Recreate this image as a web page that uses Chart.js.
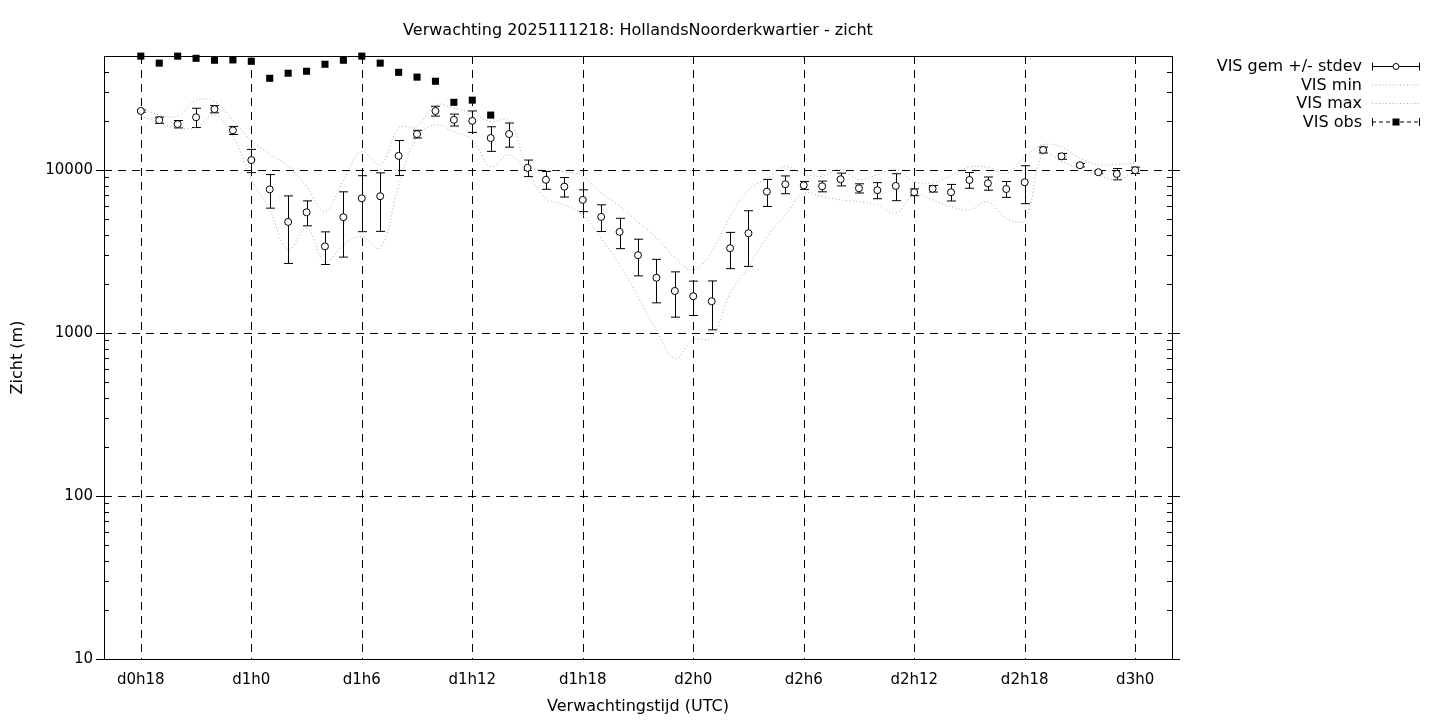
<!DOCTYPE html>
<html>
<head>
<meta charset="utf-8">
<script src="https://cdn.jsdelivr.net/npm/chart.js@4.4.0/dist/chart.umd.min.js"></script>
<style>
html, body { margin: 0; padding: 0; background: #fff; }
#wrap { width: 1440px; height: 720px; }
</style>
</head>
<body>
<div id="wrap"><canvas id="chart" width="1440" height="720"></canvas></div>
<script>
// verwachtingsuren (uren sinds d0h0)
const hours = [18,19,20,21,22,23,24,25,26,27,28,29,30,31,32,33,34,35,36,37,38,39,40,41,42,43,44,45,46,47,48,49,50,51,52,53,54,55,56,57,58,59,60,61,62,63,64,65,66,67,68,69,70,71,72];

// VIS gem (m)
const visGem = [23000,20200,19100,21050,23600,17500,11500,7600,4800,5500,3400,5130,6700,6900,12200,16600,23000,20300,20000,15700,16600,10300,8700,7900,6550,5150,4170,3000,2180,1810,1680,1565,3310,4090,7360,8170,8050,7940,8770,7720,7510,7980,7300,7670,7300,8680,8280,7640,8410,13260,12130,10690,9680,9450,9960];

// stdev (m)
const visSd = [400,900,1000,2850,1200,1000,1870,1770,2130,960,770,2210,2520,2700,2960,900,1600,1700,3000,2700,2800,1200,1090,1080,1000,960,880,760,650,560,400,520,830,1530,1390,1020,450,600,790,500,850,1500,350,350,850,960,770,850,2200,550,500,250,150,750,450];

// VIS min (m)
const visMin = [21500,19400,18000,18300,21700,16200,8800,5700,3230,4390,2740,3470,3900,3310,8000,15900,18900,17200,15300,10480,12360,9540,6700,6100,5290,3800,2620,1670,1040,700,910,930,1750,2550,3900,5290,7190,6860,6550,6390,6100,5450,7030,6550,5950,5690,6390,5050,4940,12700,11270,10240,9320,8680,9760];

// VIS max (m)
const visMax = [24000,21800,21400,26800,26200,20200,15200,12500,10500,7900,5550,8680,12960,10730,18000,18600,25100,23900,22300,19800,20200,10730,10000,9760,9100,7200,6000,4800,3830,2890,2440,3160,5170,7540,8890,10480,9450,9190,10100,8770,9320,10100,8480,8300,9300,10400,10400,9580,12000,14250,13800,11800,10730,10840,10990];

// waarnemingen
const obsHours = [18,19,20,21,22,23,24,25,26,27,28,29,30,31,32,33,34,35,36,37];
const visObs = [49900,45200,49900,48400,47100,47300,46400,36500,39200,40300,44500,47100,49900,45200,39700,37100,35000,26000,26800,21700];

// as-labels
const xTickValues = [18,24,30,36,42,48,54,60,66,72];
const xTickLabels = ['d0h18','d1h0','d1h6','d1h12','d1h18','d2h0','d2h6','d2h12','d2h18','d3h0'];
const yTickValues = [10,100,1000,10000];

const FONT = '16px "DejaVu Sans", sans-serif';

const pts = (xs, ys) => xs.map((h, i) => ({ x: h, y: ys[i] }));

// gnuplot-achtige rand, grid, tics en foutbalken
const framePlugin = {
    id: 'frame',
    beforeDatasetsDraw(chart) {
        const { ctx, chartArea: a, scales: { x, y } } = chart;
        ctx.save();
        ctx.strokeStyle = '#000';
        ctx.lineWidth = 1;

        // grid
        ctx.setLineDash([8, 6]);
        ctx.beginPath();
        xTickValues.forEach(v => {
            const px = Math.round(x.getPixelForValue(v)) + 0.5;
            ctx.moveTo(px, a.top);
            ctx.lineTo(px, a.bottom);
        });
        yTickValues.slice(1).forEach(v => {
            const py = Math.round(y.getPixelForValue(v)) + 0.5;
            ctx.moveTo(a.left, py);
            ctx.lineTo(a.right, py);
        });
        ctx.stroke();
        ctx.setLineDash([]);

        // minor tics (binnen) en major tics (buiten)
        ctx.beginPath();
        yTickValues.forEach(d => {
            for (let m = 2; m <= 9; m++) {
                const v = m * d;
                if (v > y.max) break;
                const py = Math.round(y.getPixelForValue(v)) + 0.5;
                ctx.moveTo(a.left, py); ctx.lineTo(a.left + 5, py);
                ctx.moveTo(a.right - 5, py); ctx.lineTo(a.right, py);
            }
            const py = Math.round(y.getPixelForValue(d)) + 0.5;
            ctx.moveTo(a.left - 8, py); ctx.lineTo(a.left, py);
            ctx.moveTo(a.right, py); ctx.lineTo(a.right + 8, py);
        });
        ctx.stroke();

        // rand
        ctx.strokeRect(Math.round(a.left) + 0.5, Math.round(a.top) + 0.5,
            Math.round(a.right - a.left), Math.round(a.bottom - a.top));

        // foutbalken gem +/- stdev
        ctx.beginPath();
        hours.forEach((h, i) => {
            const px = Math.round(x.getPixelForValue(h)) + 0.5;
            const top = y.getPixelForValue(visGem[i] + visSd[i]);
            const bot = y.getPixelForValue(Math.max(visGem[i] - visSd[i], 10));
            ctx.moveTo(px, top); ctx.lineTo(px, bot);
            ctx.moveTo(px - 4.5, top); ctx.lineTo(px + 4.5, top);
            ctx.moveTo(px - 4.5, bot); ctx.lineTo(px + 4.5, bot);
        });
        ctx.stroke();
        ctx.restore();
    },
    afterDraw(chart) {
        const { ctx, chartArea: a } = chart;
        const cx = (a.left + a.right) / 2;
        ctx.save();
        ctx.fillStyle = '#000';
        ctx.font = FONT;
        ctx.textBaseline = 'middle';
        ctx.textAlign = 'center';
        ctx.fillText('Verwachting 2025111218: HollandsNoorderkwartier - zicht', cx, 30.5);
        ctx.fillText('Verwachtingstijd (UTC)', cx, 707);
        ctx.save();
        ctx.translate(18, (a.top + a.bottom) / 2);
        ctx.rotate(-Math.PI / 2);
        ctx.fillText('Zicht (m)', 0, 0);
        ctx.restore();

        // legenda
        const rows = ['VIS gem +/- stdev', 'VIS min', 'VIS max', 'VIS obs'];
        const x1 = 1372, x2 = 1420, xm = 1396;
        ctx.textAlign = 'right';
        rows.forEach((t, i) => {
            const ly = 67 + i * 18.5;
            ctx.fillText(t, 1362, ly);
        });
        ctx.lineWidth = 1;
        // gem
        let ly = 66.5;
        ctx.strokeStyle = '#000';
        ctx.beginPath();
        ctx.moveTo(x1, ly); ctx.lineTo(x2, ly);
        ctx.moveTo(x1 + 0.5, ly - 4); ctx.lineTo(x1 + 0.5, ly + 4);
        ctx.moveTo(x2 - 0.5, ly - 4); ctx.lineTo(x2 - 0.5, ly + 4);
        ctx.stroke();
        ctx.beginPath();
        ctx.arc(xm, ly, 3, 0, Math.PI * 2);
        ctx.fillStyle = '#fff'; ctx.fill(); ctx.stroke();
        // min / max
        ctx.strokeStyle = '#a8a8a8';
        ctx.setLineDash([1, 2.5]);
        [85, 103.5].forEach(yy => {
            ctx.beginPath(); ctx.moveTo(x1, yy); ctx.lineTo(x2, yy); ctx.stroke();
        });
        // obs
        ly = 122;
        ctx.strokeStyle = '#000';
        ctx.setLineDash([4, 3]);
        ctx.beginPath(); ctx.moveTo(x1, ly); ctx.lineTo(x2, ly); ctx.stroke();
        ctx.setLineDash([]);
        ctx.beginPath();
        ctx.moveTo(x1 + 0.5, ly - 4); ctx.lineTo(x1 + 0.5, ly + 4);
        ctx.moveTo(x2 - 0.5, ly - 4); ctx.lineTo(x2 - 0.5, ly + 4);
        ctx.stroke();
        ctx.fillStyle = '#000';
        ctx.fillRect(xm - 3.5, ly - 3.5, 7, 7);
        ctx.restore();
    }
};

const dotted = {
    borderColor: '#a8a8a8',
    borderWidth: 1,
    borderDash: [1, 2.5],
    pointRadius: 0,
    tension: 0.4,
    fill: false
};

new Chart(document.getElementById('chart'), {
    type: 'line',
    data: {
        datasets: [
            {
                label: 'VIS gem +/- stdev',
                data: pts(hours, visGem),
                showLine: false,
                pointStyle: 'circle',
                pointRadius: 3.5,
                pointBackgroundColor: '#fff',
                pointBorderColor: '#000',
                pointBorderWidth: 1
            },
            Object.assign({ label: 'VIS min', data: pts(hours, visMin) }, dotted),
            Object.assign({ label: 'VIS max', data: pts(hours, visMax) }, dotted),
            {
                label: 'VIS obs',
                data: pts(obsHours, visObs),
                showLine: false,
                pointStyle: 'rect',
                pointRadius: 5,
                pointBackgroundColor: '#000',
                pointBorderColor: '#000',
                pointBorderWidth: 0,
                clip: false
            }
        ]
    },
    options: {
        responsive: false,
        animation: false,
        devicePixelRatio: 1,
        layout: { padding: { left: 0, right: 268, top: 56, bottom: 0 } },
        plugins: {
            legend: { display: false },
            title: { display: false },
            tooltip: { enabled: false }
        },
        scales: {
            x: {
                type: 'linear',
                min: 16,
                max: 74,
                afterBuildTicks: s => { s.ticks = xTickValues.map(v => ({ value: v })); },
                afterFit: s => { s.height = 61; },
                grid: { display: false, drawTicks: false },
                border: { display: false },
                ticks: {
                    autoSkip: false,
                    maxRotation: 0,
                    padding: 12,
                    color: '#000',
                    font: { family: '"DejaVu Sans", sans-serif', size: 15 },
                    callback: v => xTickLabels[xTickValues.indexOf(v)] || ''
                }
            },
            y: {
                type: 'logarithmic',
                min: 10,
                max: 50000,
                afterBuildTicks: s => { s.ticks = yTickValues.map(v => ({ value: v })); },
                afterFit: s => { s.width = 104; },
                grid: { display: false, drawTicks: false },
                border: { display: false },
                ticks: {
                    autoSkip: false,
                    padding: 11,
                    color: '#000',
                    font: { family: '"DejaVu Sans", sans-serif', size: 15 },
                    callback: v => String(v)
                }
            }
        }
    },
    plugins: [framePlugin]
});
</script>
</body>
</html>
